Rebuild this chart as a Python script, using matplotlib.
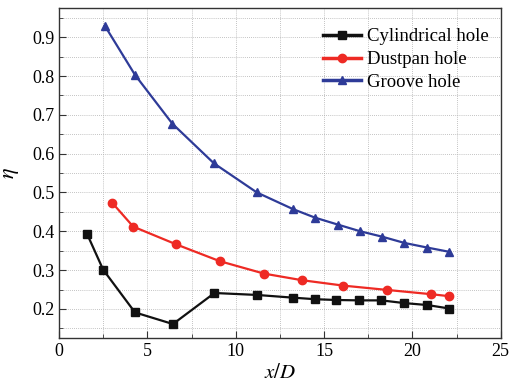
import matplotlib
matplotlib.use("Agg")
import matplotlib.pyplot as plt
from matplotlib.ticker import MultipleLocator

plt.rcParams['font.family'] = ['Liberation Serif', 'DejaVu Serif']
plt.rcParams['mathtext.fontset'] = 'stix'

cyl_x = [1.6, 2.5, 4.3, 6.45, 8.8, 11.2, 13.25, 14.5, 15.7, 17.0, 18.25, 19.55, 20.85, 22.1]
cyl_y = [0.392, 0.301, 0.191, 0.161, 0.241, 0.236, 0.229, 0.225, 0.223, 0.222, 0.222, 0.215, 0.210, 0.201]

dus_x = [3.0, 4.2, 6.65, 9.1, 11.6, 13.75, 16.1, 18.55, 21.05, 22.05]
dus_y = [0.474, 0.412, 0.366, 0.323, 0.291, 0.274, 0.260, 0.249, 0.238, 0.233]

gro_x = [2.6, 4.3, 6.42, 8.77, 11.2, 13.25, 14.5, 15.8, 17.05, 18.3, 19.55, 20.85, 22.1]
gro_y = [0.929, 0.803, 0.677, 0.575, 0.500, 0.457, 0.435, 0.417, 0.400, 0.386, 0.370, 0.358, 0.347]

labels = ['Cylindrical hole', 'Dustpan hole', 'Groove hole']
colors = ['#111111', '#ee2a24', '#2e3b98']

fig = plt.figure(figsize=(5.1, 3.85), dpi=100)
ax = fig.add_axes([0.1157, 0.122, 0.866, 0.857])

ax.plot(cyl_x, cyl_y, '-s', color=colors[0], lw=1.6, ms=5.5, label=labels[0])
ax.plot(dus_x, dus_y, '-o', color=colors[1], lw=1.6, ms=6, label=labels[1])
ax.plot(gro_x, gro_y, '-^', color=colors[2], lw=1.6, ms=6, label=labels[2])

ax.set_xlim(0, 25)
ax.set_ylim(0.125, 0.975)
ax.xaxis.set_major_locator(MultipleLocator(5))
ax.xaxis.set_minor_locator(MultipleLocator(2.5))
ax.yaxis.set_major_locator(MultipleLocator(0.1))
ax.yaxis.set_minor_locator(MultipleLocator(0.05))
ax.set_yticks([0.2, 0.3, 0.4, 0.5, 0.6, 0.7, 0.8, 0.9])
ax.set_yticklabels(['0.2', '0.3', '0.4', '0.5', '0.6', '0.7', '0.8', '0.9'])

ax.grid(True, which='both', linestyle=(0, (1, 1.5)), color='#b0b0b0', lw=0.6)
ax.set_axisbelow(True)
ax.tick_params(which='both', direction='in', labelsize=13, color='#333333')
ax.tick_params(which='major', length=5)
ax.tick_params(which='minor', length=3)
ax.tick_params(axis='both', which='both', top=False, right=False)
for s in ax.spines.values():
    s.set_color('#333333')
    s.set_linewidth(1.0)

ax.set_xlabel('$x/D$', fontsize=15, labelpad=3)
ax.set_ylabel('$\\eta$', fontsize=16, labelpad=8)

leg = ax.legend(loc='upper right', bbox_to_anchor=(0.973, 0.939), frameon=False,
                fontsize=13.5, handlelength=2.0, handletextpad=0.32,
                labelspacing=0.3, borderaxespad=0.0, borderpad=0.0)
for h in leg.legend_handles:
    h.set_linewidth(2.5)

fig.savefig('out.png', dpi=100)
